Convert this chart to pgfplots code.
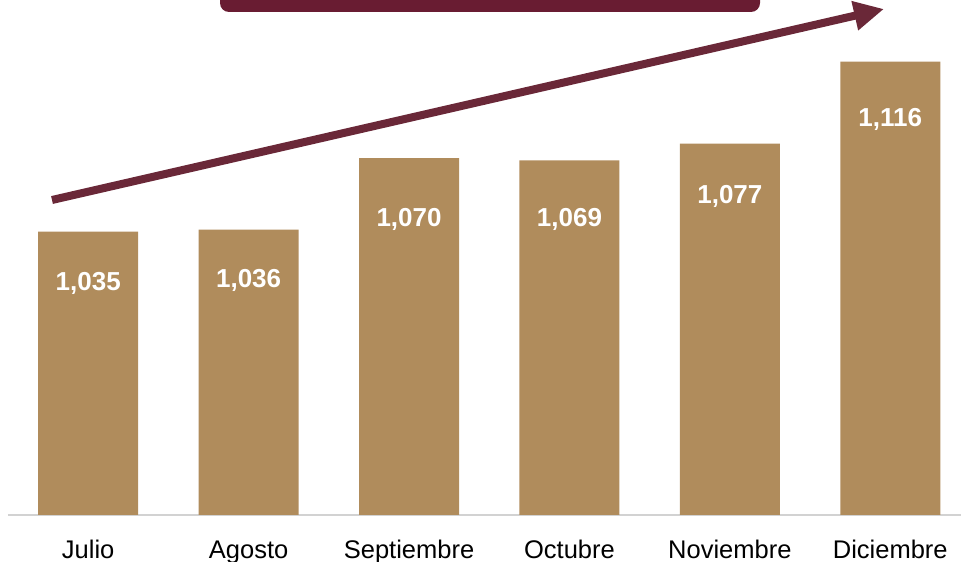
\documentclass[border=0pt]{standalone}
\usepackage{fontspec}
\setmainfont{Liberation Sans}
\usepackage{pgfplots}
\usepackage{pgfplotstable}
\pgfplotsset{compat=1.18}
\usetikzlibrary{arrows.meta}
\definecolor{barc}{HTML}{B08C5C}
\definecolor{maroonbox}{HTML}{691C32}
\definecolor{arrowc}{HTML}{6A2838}
\pgfplotstableread{
x y
0 1035
1 1036
2 1070
3 1069
4 1077
5 1116
}\bars
\pgfplotstableread{
x y lab
0 1007.2 1,035
1 1008.6 1,036
2 1037.7 1,070
3 1037.7 1,069
4 1048.2 1,077
5 1084.9 1,116
}\labels
\begin{document}
\begin{tikzpicture}[x=1pt,y=1pt]
\fill[maroonbox, rounded corners=9pt] (220,550) rectangle (760,600);
\begin{axis}[
  at={(8pt,47pt)}, anchor=south west,
  width=953pt, height=515pt, scale only axis,
  xmin=-0.5, xmax=5.441, ymin=900, ymax=1145.4,
  axis x line*=bottom, axis y line=none,
  x axis line style={draw=gray!35, line width=1.5pt, -},
  major tick length=0pt,
  xtick={0,...,5},
  xticklabels={Julio,Agosto,Septiembre,Octubre,Noviembre,Diciembre},
  xticklabel style={anchor=base, yshift=-43pt, font=\fontsize{25.5}{28}\selectfont, text=black},
  clip=false,
]
\addplot[ybar, bar width=100pt, fill=barc, draw=none] table[x=x,y=y] {\bars};
\addplot[draw=none, mark=none, point meta=explicit symbolic,
  nodes near coords,
  nodes near coords style={anchor=base, text=white, font=\fontsize{26}{28}\selectfont\bfseries}]
  table[x=x,y=y,meta=lab] {\labels};
\end{axis}
\draw[arrowc, line width=8pt, -{Triangle[length=30pt,width=28pt]}] (52,362) -- (884,553);
\pgfresetboundingbox
\useasboundingbox (0,0) rectangle (961,562);
\end{tikzpicture}
\end{document}
